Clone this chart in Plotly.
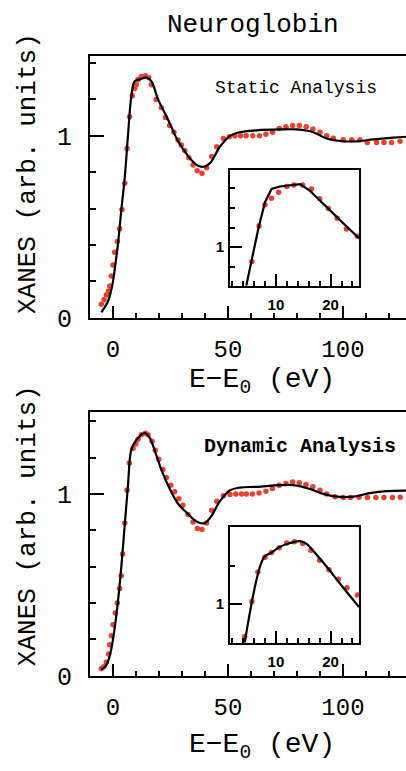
import plotly.graph_objects as go

# ---------------- data ----------------
# Static analysis (top panel): theory line
static_line_E = [-5.1, -3.5, -2.2, -1.0, 0.0, 1.0, 2.2, 3.6, 5.1, 6.5, 8.0, 9.4, 11.6, 14.5, 16.7,
                 19.6, 23.9, 28.3, 32.6, 35.0, 37.0, 39.3, 42.2, 46.5, 50.9, 55.2, 62.5, 72.6,
                 79.9, 87.1, 92.9, 100.1, 106.0, 113.2, 121.9, 127.4]
static_line_Y = [0.03, 0.06, 0.09, 0.14, 0.20, 0.29, 0.41, 0.59, 0.77, 1.00, 1.22, 1.30, 1.31, 1.32, 1.30,
                 1.20, 1.09, 0.97, 0.89, 0.855, 0.835, 0.83, 0.85, 0.94, 1.00, 1.02, 1.03, 1.035,
                 1.035, 1.02, 0.985, 0.97, 0.97, 0.98, 0.99, 0.995]
# Static analysis: experiment dots
static_exp_E = [-5.1, -3.9, -2.9, -1.9, -1.4, -0.7, 0.0, 0.7, 1.9, 2.9, 3.9, 5.1, 6.1, 7.2, 8.4, 9.4,
                10.1, 10.9, 12.3, 14.1, 15.5, 16.7, 18.8, 21.0, 22.8, 24.6, 26.5, 28.3, 29.7, 31.2,
                33.0, 34.8, 36.6, 38.7, 40.7, 42.9, 45.1, 48.0, 50.6, 53.0, 55.5, 57.9, 60.8, 63.7,
                66.5, 69.4, 72.3, 75.2, 78.1, 81.0, 84.0, 86.9, 90.0, 92.9, 95.8, 100.1, 103.8,
                107.4, 110.6, 114.6, 117.8, 121.1, 124.8]
static_exp_Y = [0.075, 0.10, 0.125, 0.147, 0.175, 0.23, 0.29, 0.36, 0.42, 0.49, 0.595, 0.74, 0.93, 1.105,
                1.22, 1.26, 1.28, 1.31, 1.326, 1.33, 1.32, 1.28, 1.20, 1.156, 1.10, 1.057, 1.02, 0.977,
                0.95, 0.92, 0.88, 0.84, 0.808, 0.795, 0.824, 0.887, 0.94, 0.985, 0.995, 1.0, 1.0, 1.0,
                1.0, 1.0, 1.009, 1.02, 1.04, 1.05, 1.057, 1.057, 1.05, 1.037, 1.02, 1.0, 0.987, 0.978,
                0.978, 0.978, 0.964, 0.964, 0.964, 0.964, 0.97]

# Dynamic analysis (bottom panel): theory line
dynamic_line_E = [-5.1, -2.9, -1.4, 0.0, 1.9, 3.6, 5.1, 6.5, 8.0, 10.1, 13.8, 15.9, 18.1, 21.0, 24.6,
                  28.3, 32.6, 35.0, 37.8, 40.0, 42.9, 46.5, 50.9, 55.2, 62.5, 72.6, 78.4, 85.7,
                  91.4, 97.3, 104.5, 111.7, 119.0, 127.4]
dynamic_line_Y = [0.032, 0.059, 0.11, 0.20, 0.38, 0.597, 0.83, 1.045, 1.246, 1.296, 1.335, 1.31, 1.24,
                  1.134, 1.03, 0.946, 0.89, 0.86, 0.84, 0.84, 0.88, 0.96, 1.02, 1.035, 1.039, 1.048,
                  1.048, 1.027, 1.0, 0.985, 0.985, 1.004, 1.015, 1.018]
# Dynamic analysis: experiment dots
dynamic_exp_E = [-5.1, -4.0, -2.9, -1.9, -1.4, -0.7, 0.0, 1.0, 1.9, 2.9, 3.6, 4.2, 5.1, 6.1, 7.1, 8.7,
                 9.9, 10.9, 12.3, 14.1, 15.2, 17.0, 18.4, 19.9, 21.7, 23.2, 25.1, 26.8, 28.6, 30.4,
                 32.6, 34.8, 36.7, 38.7, 40.7, 42.9, 45.1, 48.0, 50.9, 53.4, 55.9, 58.0, 60.6, 63.5,
                 66.5, 69.3, 72.3, 75.2, 78.1, 81.0, 83.9, 86.9, 90.0, 92.9, 96.5, 100.1, 103.3,
                 107.0, 110.6, 114.3, 117.8, 121.5, 124.9]
dynamic_exp_Y = [0.04, 0.05, 0.075, 0.12, 0.17, 0.22, 0.28, 0.345, 0.40, 0.48, 0.55, 0.67, 0.84, 1.02,
                 1.17, 1.25, 1.275, 1.30, 1.325, 1.334, 1.325, 1.29, 1.24, 1.19, 1.134, 1.09, 1.048,
                 1.012, 0.973, 0.937, 0.887, 0.845, 0.81, 0.805, 0.84, 0.91, 0.96, 0.99, 0.997, 1.0,
                 1.0, 1.0, 1.0, 1.005, 1.015, 1.03, 1.048, 1.057, 1.066, 1.062, 1.052, 1.04, 1.02,
                 1.0, 0.984, 0.98, 0.98, 0.982, 0.98, 0.98, 0.98, 0.98, 0.982]

# Insets (zoom of the edge region)
static_inset_line_E = [3.5, 4.6, 6.8, 8.0, 9.2, 10.7, 12.6, 14.4, 16.2, 18.6, 21.7, 25.2]
static_inset_line_Y = [0.66, 0.805, 1.097, 1.23, 1.297, 1.31, 1.317, 1.322, 1.289, 1.222, 1.139, 1.045]
static_inset_exp_E = [5.6, 6.9, 8.0, 9.2, 10.5, 12.0, 13.3, 14.9, 16.5, 18.0, 19.6, 21.2, 22.9, 24.9]
static_inset_exp_Y = [0.927, 1.108, 1.217, 1.25, 1.28, 1.31, 1.318, 1.318, 1.297, 1.247, 1.197, 1.147,
                      1.093, 1.055]

dynamic_inset_line_E = [3.5, 4.3, 7.8, 9.2, 10.7, 12.6, 14.4, 15.6, 17.4, 19.6, 21.7, 25.2]
dynamic_inset_line_Y = [0.62, 0.80, 1.245, 1.27, 1.30, 1.32, 1.33, 1.316, 1.26, 1.185, 1.108, 0.985]
dynamic_inset_exp_E = [4.3, 5.6, 6.7, 8.0, 9.2, 10.6, 12.0, 13.4, 14.9, 16.4, 18.0, 19.7, 21.4, 23.0, 24.9]
dynamic_inset_exp_Y = [0.83, 1.014, 1.168, 1.245, 1.27, 1.296, 1.32, 1.327, 1.318, 1.282, 1.23, 1.18,
                       1.13, 1.086, 1.048]

main_xticks = [0, 50, 100]
main_yticks = [0, 1]
inset_xticks = [10, 20]
inset_yticks = [1]

# ---------------- figure ----------------
W, H = 406, 771
RED = "#e8412f"
MONO = "Liberation Mono"
SANS = "Liberation Sans"


def px_x(p):
    return p / W


def px_y(p):
    return 1 - p / H


fig = go.Figure()


def add_pair(E_line, Y_line, E_exp, Y_exp, xa, ya, shape, msize):
    fig.add_trace(go.Scatter(x=E_exp, y=Y_exp, mode="markers", xaxis=xa, yaxis=ya,
                             marker=dict(color=RED, size=msize, line=dict(width=0)),
                             showlegend=False, cliponaxis=True))
    fig.add_trace(go.Scatter(x=E_line, y=Y_line, mode="lines", xaxis=xa, yaxis=ya,
                             line=dict(color="black", width=2.2, shape=shape),
                             showlegend=False))


add_pair(static_line_E, static_line_Y, static_exp_E, static_exp_Y, "x", "y", "spline", 5.5)
add_pair(dynamic_line_E, dynamic_line_Y, dynamic_exp_E, dynamic_exp_Y, "x2", "y2", "spline", 5.5)
add_pair(static_inset_line_E, static_inset_line_Y, static_inset_exp_E, static_inset_exp_Y, "x3", "y3",
         "linear", 5.5)
add_pair(dynamic_inset_line_E, dynamic_inset_line_Y, dynamic_inset_exp_E, dynamic_inset_exp_Y, "x4", "y4",
         "spline", 5.5)


def main_x(anchor):
    return dict(domain=[px_x(90), 1.0], range=[-10, 127.4], anchor=anchor,
                showline=True, linecolor="black", linewidth=2, mirror=True,
                ticks="inside", ticklen=12, tickwidth=2, tickcolor="black",
                tickvals=main_xticks, ticktext=[str(v) for v in main_xticks],
                minor=dict(ticks="inside", ticklen=5, tickwidth=1.5, tickcolor="black",
                           dtick=10, tick0=0, showgrid=False),
                showgrid=False, zeroline=False, ticklabelstandoff=8,
                tickfont=dict(family=MONO, size=24, color="black"))


def main_y(anchor, dom, top):
    return dict(domain=dom, range=[0, top], anchor=anchor,
                showline=True, linecolor="black", linewidth=2, mirror=False,
                ticks="inside", ticklen=14, tickwidth=2, tickcolor="black",
                tickvals=main_yticks, ticktext=[str(v) for v in main_yticks],
                minor=dict(ticks="inside", ticklen=6, tickwidth=1.5, tickcolor="black",
                           dtick=0.2, tick0=0, showgrid=False),
                showgrid=False, zeroline=False, ticklabelstandoff=11,
                tickfont=dict(family=MONO, size=25, color="black"))


def inset_x(anchor):
    return dict(domain=[px_x(230), px_x(359)], range=[1.6, 25.2], anchor=anchor,
                showline=True, linecolor="black", linewidth=2, mirror=True,
                ticks="inside", ticklen=12, tickwidth=2, tickcolor="black",
                tickvals=inset_xticks, ticktext=[str(v) for v in inset_xticks],
                minor=dict(ticks="inside", ticklen=5, tickwidth=1.5, tickcolor="black",
                           dtick=2, tick0=0, showgrid=False),
                showgrid=False, zeroline=False, ticklabelstandoff=4,
                tickfont=dict(family=SANS, size=15, color="black", weight="bold"))


def inset_y(anchor, dom, rng, minor_dt):
    return dict(domain=dom, range=rng, anchor=anchor,
                showline=True, linecolor="black", linewidth=2, mirror=True,
                ticks="inside", ticklen=12, tickwidth=2, tickcolor="black",
                tickvals=inset_yticks, ticktext=[str(v) for v in inset_yticks],
                minor=dict(ticks="inside", ticklen=5, tickwidth=1.5, tickcolor="black",
                           dtick=minor_dt, tick0=0, showgrid=False),
                showgrid=False, zeroline=False, ticklabelstandoff=1,
                tickfont=dict(family=SANS, size=15, color="black", weight="bold"))


fig.update_layout(
    width=W, height=H, margin=dict(l=0, r=0, t=0, b=0),
    paper_bgcolor="white", plot_bgcolor="rgba(0,0,0,0)",
    xaxis=main_x("y"),
    yaxis=main_y("x", [px_y(325), px_y(57)], 1.44),
    xaxis2=main_x("y2"),
    yaxis2=main_y("x2", [px_y(691), px_y(421)], 1.452),
    xaxis3=inset_x("y3"),
    yaxis3=inset_y("x3", [px_y(292), px_y(174)], [0.8035, 1.3935], 0.1),
    xaxis4=inset_x("y4"),
    yaxis4=inset_y("x4", [px_y(657), px_y(539)], [0.7985, 1.4036], 0.2),
)


def ann(text, x, y, size, angle=0, bold=False, family=MONO):
    fig.add_annotation(text=text, x=px_x(x), y=px_y(y), xref="paper", yref="paper",
                       showarrow=False, textangle=angle, xanchor="center", yanchor="middle",
                       font=dict(family=family, size=size, color="black",
                                 weight="bold" if bold else "normal"))


ann("Neuroglobin", 253, 26, 26)
ann("Static Analysis", 296, 90, 18)
ann("Dynamic Analysis", 300, 457, 20, bold=True)
ann("XANES (arb. units)", 28, 178, 26, angle=-90)
ann("XANES (arb. units)", 28, 538, 26, angle=-90)
ann("E−E<sub>0</sub> (eV)", 262, 390, 28)
ann("E−E<sub>0</sub> (eV)", 262, 763, 28)

fig.write_html("out.html")
